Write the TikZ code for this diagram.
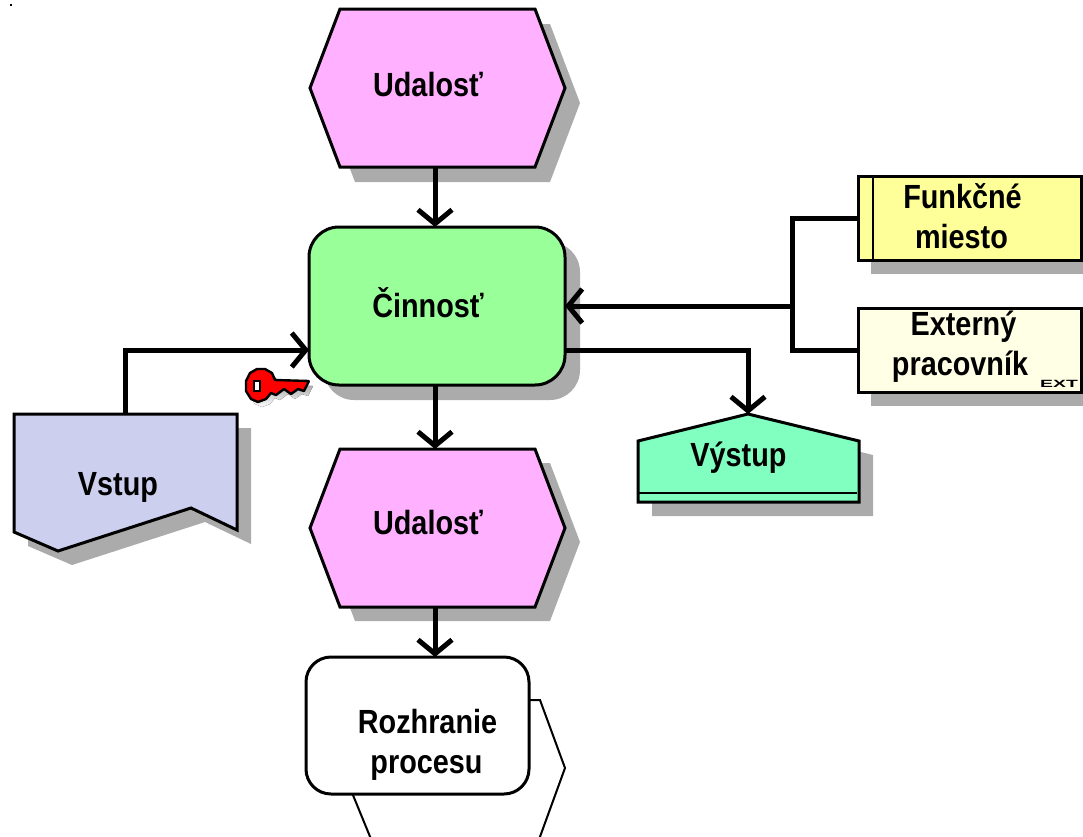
\documentclass[tikz,border=0pt]{standalone}
\usepackage{fontspec}
\setmainfont[FakeStretch=0.86]{Liberation Sans}
\newfontfamily\extfont{Liberation Sans}
\usetikzlibrary{arrows.meta}
\definecolor{shade}{HTML}{ABABAB}
\definecolor{evt}{HTML}{FFB0FF}
\definecolor{act}{HTML}{99FF99}
\definecolor{inp}{HTML}{CCD0EE}
\definecolor{outp}{HTML}{80FFC0}
\definecolor{fmc}{HTML}{FFFF99}
\definecolor{extc}{HTML}{FFFFE5}
\newcommand{\keyoutline}{(246,381)--(250,373)--(257,369)--(265,369)--(272,373)--(275,380)--(309,381)--(304,391)--(298,389)--(291,394)--(284,389)--(276,395)--(271,393)--(266,399)--(258,402)--(251,399)--(246,391)--cycle}
\tikzset{
  x=1pt,y=-1pt,
  shapeline/.style={draw=black,line width=3pt,line join=miter},
  shadowfill/.style={fill=shade,draw=none},
  label/.style={inner sep=0pt,outer sep=0pt,font=\fontsize{33.5}{40}\selectfont\bfseries,align=center},
  box/.style={inner sep=0pt,outer sep=0pt,draw=none,minimum width=#1},
  conn/.style={line width=5pt,line join=miter,-{Straight Barb[length=14pt,width=34pt,line width=5pt]}},
  plain/.style={line width=5pt,line join=miter},
}
\begin{document}
\begin{tikzpicture}
\useasboundingbox (0,0) rectangle (1083,836);
\begin{scope}
\clip (0,0) rectangle (1083,836);
% shadows
\fill[shadowfill] (355,24)--(550,24)--(580,103)--(550,182)--(355,182)--(325,103)--cycle;
\fill[shadowfill,rounded corners=30pt] (324,242) rectangle (580,400);
\fill[shadowfill] (28,428)--(251,428)--(251,544)--(205,522)--(72,565)--(28,546)--cycle;
\fill[shadowfill] (871,190) rectangle (1083,274);
\fill[shadowfill] (871,322) rectangle (1083,406);
\fill[shadowfill] (652,455)--(762,428)--(873,455)--(873,516)--(652,516)--cycle;
\fill[shadowfill] (355,463)--(550,463)--(580,542)--(550,621)--(355,621)--(325,542)--cycle;
% event 1
\draw[shapeline,fill=evt] (340,9)--(535,9)--(565,88)--(535,167)--(340,167)--(310,88)--cycle;
% activity
\draw[shapeline,fill=act,rounded corners=30pt] (309,227) rectangle (565,385);
% event 2
\draw[shapeline,fill=evt] (340,449)--(535,449)--(565,528)--(535,607)--(340,607)--(310,528)--cycle;
% input
\draw[shapeline,fill=inp] (14,414)--(237,414)--(237,530)--(191,508)--(58,551)--(14,532)--cycle;
% output
\draw[shapeline,fill=outp] (638,441)--(748,414)--(859,441)--(859,502)--(638,502)--cycle;
\draw[line width=2pt] (638,493)--(857,493);
% function place
\draw[shapeline,fill=fmc] (858,176) rectangle (1081,260);
\draw[line width=2pt] (873,176)--(873,260);
% external
\draw[shapeline,fill=extc] (858,308) rectangle (1081,392);
% interface
\draw[line width=2pt,fill=white] (314,700)--(540,700)--(565,768)--(517,900)--(396,900)--cycle;
\draw[shapeline,fill=white,rounded corners=25pt] (306,657) rectangle (529,794);
% key
\begin{scope}[shift={(4pt,-5pt)}]
\fill[shade] \keyoutline;
\end{scope}
\draw[line width=2.4pt,fill=red,line join=bevel] \keyoutline;
\fill[white,draw=black,line width=1.4pt] (254,381) rectangle (260,391);
\fill[black] (10,4) rectangle (12,6);
\end{scope}
% named boxes with text
\node[box=255pt,minimum height=158pt,label] (e1) at (437.5,85) {\kern-19pt Udalosť};
\node[box=256pt,minimum height=158pt,label] (a1) at (437,303) {\kern-18pt Činnosť};
\node[box=255pt,minimum height=158pt,label] (e2) at (437.5,523) {\kern-19pt Udalosť};
\node[box=223pt,minimum height=84pt,label] (fm) at (969.5,216) {\kern-14pt Funkčné\\\kern-16pt miesto};
\node[box=223pt,minimum height=84pt,label] (ex) at (969.5,347) {\kern-12pt Externý\\\kern-19pt pracovník};
\node[box=223pt,minimum height=137pt,label] (rp) at (417.5,745) {\kern20pt Rozhranie\\\kern18pt procesu};
\node[box=223pt,minimum height=116pt,label] (in) at (125.5,487) {\kern-15pt Vstup};
\node[box=221pt,minimum height=88pt,label] (ou) at (748.5,458) {\kern-20pt Výstup};
\node[inner sep=0pt,outer sep=0pt,font=\extfont\fontsize{10.5}{11}\selectfont\bfseries] (extlbl) at (1059,384) {\scalebox{1.85}[1]{EXT}};
% connection points
\coordinate (a1top) at (435,227);
\coordinate (a1bot) at (435,385);
\coordinate (e1bot) at (435,167);
\coordinate (e2top) at (435,449);
\coordinate (e2bot) at (435,607);
\coordinate (rptop) at (435,657);
\coordinate (a1in) at (309,350);
\coordinate (a1out) at (565,350);
\coordinate (a1east) at (565,306);
\coordinate (outtop) at (748,414);
\coordinate (bus) at (792,306);
\coordinate (inup) at (125,414);
\coordinate (fmw) at (858,218);
\coordinate (exw) at (858,350);
% connectors
\draw[conn] (e1bot) -- (a1top);
\draw[conn] (a1bot) -- (e2top);
\draw[conn] (e2bot) -- (rptop);
\draw[conn] (inup) |- (a1in);
\draw[conn] (a1out) -| (outtop);
\draw[plain] (fmw) -| (exw -| bus) -- (exw);
\draw[conn] (bus) -- (a1east);
\end{tikzpicture}
\end{document}
